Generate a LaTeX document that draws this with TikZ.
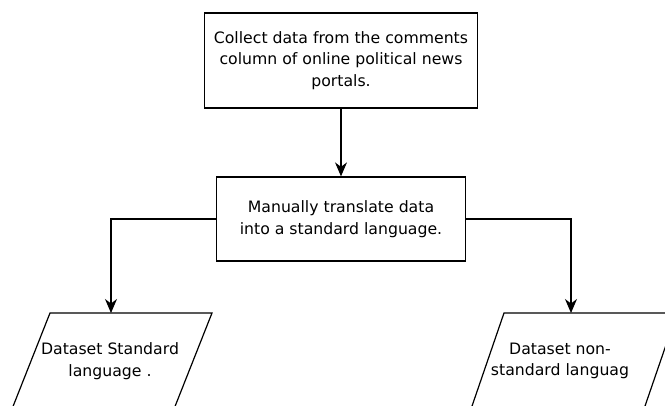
\documentclass[tikz,border=0pt]{standalone}
\usepackage{fontspec}
\setmainfont{DejaVu Sans}
\usetikzlibrary{arrows.meta}
\begin{document}
\begin{tikzpicture}[x=1pt,y=-1pt,
  lbl/.style={align=center, font=\fontsize{15.7}{21.5}\selectfont, inner sep=0pt},
  box/.style={lbl, draw, line width=1.3pt},
  conn/.style={line width=1.3pt, -{Stealth[length=14pt,width=12pt,inset=4.5pt]}},
  para/.style={draw, line width=1.2pt}]
\useasboundingbox (0,0) rectangle (665,405);
\fill[white] (0,0) rectangle (665,405);
\clip (0,0) rectangle (665,405);
\node[box, line width=1.7pt, minimum width=273pt, minimum height=95pt] (collect) at (341,60.5)
  {Collect data from the comments\\column of online political news\\portals.};
\node[box, minimum width=249pt, minimum height=84pt] (translate) at (341,219)
  {Manually translate data\\into a standard language.};
\draw[para] (50,313) -- (212,313) -- (174,409) -- (12,409) -- cycle;
\draw[para] (504,313) -- (677,313) -- (644,409) -- (471,409) -- cycle;
\coordinate (stdtop) at (111,313);
\coordinate (nstdtop) at (571,313);
\node[lbl] (std) at (110,361) {Dataset Standard\\language .};
\node[lbl] (nstd) at (560,361) {Dataset non-\\standard languag};
\draw[conn] (collect.south) -- (translate.north);
\draw[conn] (translate.west) -| (stdtop);
\draw[conn] (translate.east) -| (nstdtop);
\end{tikzpicture}
\end{document}
